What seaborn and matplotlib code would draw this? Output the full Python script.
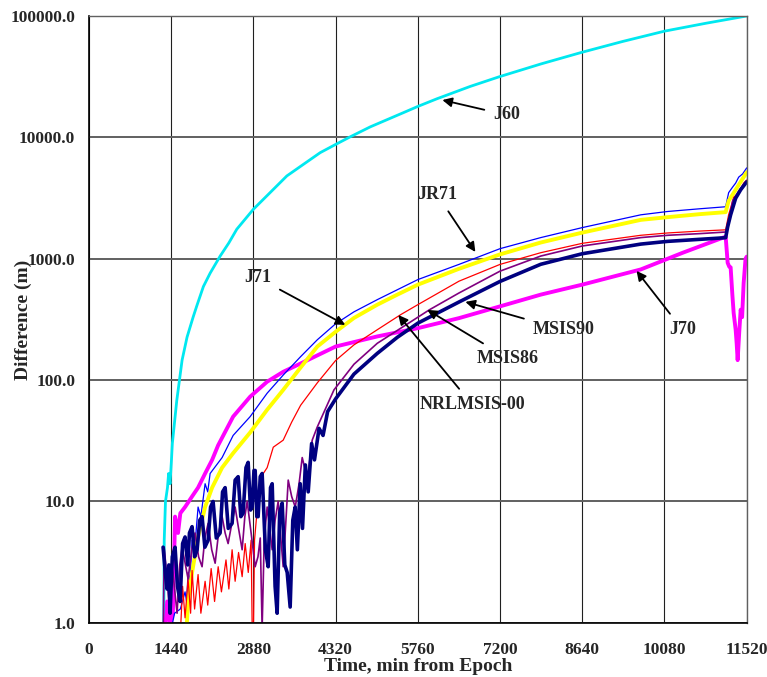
import numpy as np
import pandas as pd
import seaborn as sns
import matplotlib
matplotlib.use("Agg")
import matplotlib.pyplot as plt
from matplotlib.ticker import FixedLocator, LogLocator, FuncFormatter, NullFormatter

# ----------------------- data ----------------------- #
# time in minutes from epoch, difference in metres

j60_t = [1280, 1310, 1318, 1340, 1375, 1395, 1420, 1445, 1460, 1538, 1631, 1718, 1824, 1888, 2004,
         2122, 2297, 2450, 2589, 2881, 3174, 3466, 3758, 4050, 4326, 4576, 4927, 5511, 5763, 6096,
         6680, 7189, 7920, 8627, 9350, 10082, 10800, 11520]
j60_v = [0.5, 1.0, 4.8, 10, 13, 17, 14, 22, 30, 68, 146, 226, 330, 408, 590,
         760, 1050, 1350, 1750, 2560, 3510, 4810, 6000, 7480, 8770, 10100, 12200, 16000, 18000, 20800,
         26300, 31600, 40300, 50100, 61700, 75000, 87000, 100000]

j70_t = [1330, 1370, 1420, 1470, 1508, 1560, 1600, 1683, 1806, 1911, 2034, 2157, 2262, 2525, 2823,
         3121, 3402, 3707, 4320, 5050, 5763, 6481, 7200, 7913, 8643, 9665, 10400, 11152, 11187, 11215,
         11239, 11270, 11292, 11327, 11345, 11362, 11390, 11415, 11440, 11467, 11500, 11520]
j70_v = [0.8, 1.5, 1.0, 1.2, 7.5, 5.5, 8, 9, 11, 13, 17, 22, 29, 50, 73,
         97, 117, 137, 189, 229, 268, 324, 405, 506, 612, 816, 1120, 1520, 925, 860,
         850, 500, 357, 260, 200, 146, 250, 380, 330, 630, 1000, 1040]

jr71_t = [1420, 1500, 1600, 1683, 1710, 1736, 1770, 1806, 1850, 1911, 1960, 2034, 2080, 2122, 2332,
          2525, 2823, 3121, 3402, 3707, 4000, 4320, 4641, 5050, 5763, 6481, 7200, 7913, 8643, 9665,
          10135, 10700, 11152, 11204, 11275, 11327, 11380, 11450, 11520]
jr71_v = [0.8, 1.2, 1.3, 1.8, 1.5, 2.6, 2.2, 4.8, 4.0, 9, 7.5, 14, 12, 17, 23,
          35, 50, 78, 110, 156, 215, 291, 365, 460, 674, 898, 1210, 1493, 1806, 2300,
          2450, 2580, 2680, 3500, 3900, 4200, 4700, 5000, 5600]

j71_t = [1700, 1718, 1736, 1806, 1911, 2034, 2157, 2332, 2525, 2823, 3121, 3402, 3707, 4000, 4320,
         4641, 5050, 5401, 5763, 6481, 7200, 7913, 8643, 9665, 10135, 10700, 11152, 11204, 11327,
         11415, 11520]
j71_v = [0.8, 1.05, 1.5, 2.6, 5.1, 9, 13, 19, 25, 37, 57, 83, 127, 189, 250,
         325, 418, 506, 612, 826, 1086, 1360, 1642, 2090, 2200, 2330, 2420, 3000, 3700,
         4300, 5150]

msis86_t = [1600, 1640, 1683, 1736, 1780, 1806, 1850, 1911, 1960, 2034, 2080, 2140, 2200, 2263, 2320,
            2400, 2450, 2507, 2560, 2620, 2683, 2736, 2790, 2840, 2860, 2880, 2900, 2950, 3016, 3121,
            3228, 3402, 3550, 3707, 4000, 4320, 4641, 5050, 5459, 5763, 6481, 7200, 7913, 8643,
            9665, 10135, 10700, 11152, 11204, 11292, 11380, 11467, 11520]
msis86_v = [0.8, 2.0, 1.1, 2.3, 1.2, 2.7, 1.3, 2.5, 1.2, 2.2, 1.4, 2.8, 1.5, 2.9, 1.8,
            3.3, 1.9, 4.0, 2.2, 3.8, 2.4, 4.5, 2.6, 4.8, 0.8, 0.8, 4.8, 9, 16, 19,
            28, 32, 45, 62, 95, 145, 195, 260, 346, 419, 653, 898, 1121, 1340,
            1560, 1630, 1690, 1730, 2300, 3200, 3500, 4200, 4450]

msis90_t = [1300, 1318, 1360, 1400, 1440, 1470, 1505, 1543, 1590, 1631, 1690, 1736, 1800, 1858, 1920,
            1981, 2030, 2087, 2150, 2210, 2270, 2332, 2385, 2437, 2500, 2560, 2620, 2683, 2730, 2771,
            2840, 2911, 2960, 3000, 3033, 3070, 3121, 3209, 3260, 3314, 3360, 3402, 3450, 3490, 3550,
            3613, 3680, 3735, 3790, 3840, 3910, 3998, 4291, 4641, 5050, 5965, 6481, 7200, 7913, 8643,
            9665, 10135, 10700, 11152, 11204, 11275, 11380, 11450, 11520]
msis90_v = [0.8, 4.2, 2.5, 1.5, 3.0, 2.6, 1.8, 1.2, 3.0, 4.2, 3.0, 2.3, 4.0, 5.5, 3.5,
            2.9, 5.0, 6.6, 4.0, 3.1, 5.5, 7.5, 5.5, 4.5, 6.5, 9, 6.0, 4, 7.5, 10,
            5.5, 2.9, 3.5, 5, 0.9, 5, 9, 4, 7, 10, 5, 2.9, 7, 15, 11,
            9, 14, 23, 18, 17, 32, 41, 83, 135, 201, 380, 522, 790, 1052, 1274,
            1493, 1560, 1610, 1660, 2000, 3000, 3600, 4000, 4300]

nrl_t = [1298, 1340, 1368, 1400, 1420, 1460, 1508, 1550, 1596, 1640, 1683, 1730, 1760, 1806, 1850,
         1894, 1940, 1981, 2030, 2087, 2130, 2174, 2230, 2297, 2340, 2385, 2440, 2507, 2560, 2613,
         2660, 2700, 2750, 2788, 2830, 2858, 2890, 2911, 2940, 2963, 3000, 3033, 3090, 3139, 3180,
         3209, 3260, 3296, 3340, 3384, 3430, 3472, 3524, 3570, 3612, 3650, 3700, 3740, 3790, 3840,
         3900, 3950, 4030, 4100, 4180, 4320, 4641, 5050, 5400, 5763, 6481, 7200, 7913, 8643, 9665,
         10135, 11152, 11187, 11239, 11327, 11415, 11520]
nrl_v = [4.2, 2.5, 1.9, 3.0, 1.2, 3.5, 4.2, 2.0, 1.5, 4.5, 5.1, 3.0, 5.5, 6.2, 3.5,
         4.0, 7.0, 7.5, 4.2, 4.8, 9.0, 10, 5.0, 5.5, 12, 13, 6.0, 6.6, 15, 16,
         7.5, 8, 19, 21, 8.5, 9, 18, 18, 7.5, 7.5, 16, 17, 4, 2.9, 13,
         14, 2, 1.2, 8, 9.7, 3, 2.6, 1.35, 7, 9, 4, 14, 6, 20, 12,
         30, 22, 40, 35, 55, 70, 112, 166, 225, 295, 440, 650, 900, 1100, 1320,
         1390, 1490, 1830, 2300, 3150, 3700, 4300]

# name, x, y, colour, line width  (drawing order)
series = [
    ("J60", j60_t, j60_v, "#00E8F0", 2.0),
    ("J70", j70_t, j70_v, "#FF00FF", 2.8),
    ("JR71", jr71_t, jr71_v, "#0000FF", 0.9),
    ("J71", j71_t, j71_v, "#FFFF00", 2.8),
    ("MSIS86", msis86_t, msis86_v, "#FF0000", 0.9),
    ("MSIS90", msis90_t, msis90_v, "#800080", 1.2),
    ("NRLMSIS-00", nrl_t, nrl_v, "#000080", 2.6),
]

# label text position -> arrow tip (data coords)
labels = [
    ("J60", (7312, 15300), (6190, 20300)),
    ("JR71", (6102, 3355), (6768, 1137)),
    ("J71", (2963, 695), (4489, 285)),
    ("MSIS90", (8311, 259), (6593, 441)),
    ("MSIS86", (7329, 152), (5926, 379)),
    ("NRLMSIS-00", (6716, 62.5), (5418, 344)),
    ("J70", (10398, 259), (9591, 794)),
]

x_ticks = [0, 1440, 2880, 4320, 5760, 7200, 8640, 10080, 11520]
y_ticks = [1, 10, 100, 1000, 10000, 100000]

# ----------------------------- plotting ----------------------------- #
sns.set_style("white")
plt.rcParams["font.family"] = ["Liberation Serif", "DejaVu Serif"]
plt.rcParams["font.weight"] = "bold"

fig, ax = plt.subplots(figsize=(7.67, 6.77), dpi=100)
fig.subplots_adjust(left=0.116, right=0.9735, bottom=0.080, top=0.9764)

for name, t, v, col, lw in series:
    df = pd.DataFrame({"t": t, "v": v})
    sns.lineplot(data=df, x="t", y="v", color=col, linewidth=lw, ax=ax,
                 estimator=None, sort=False)

ax.set_yscale("log")
ax.set_xlim(0, 11520)
ax.set_ylim(1, 100000)

# ticks
ax.xaxis.set_major_locator(FixedLocator(x_ticks))
ax.xaxis.set_minor_locator(FixedLocator(np.arange(0, 11521, 360)))
ax.yaxis.set_major_locator(FixedLocator(y_ticks))
ax.yaxis.set_minor_locator(LogLocator(base=10, subs=np.arange(2, 10)))
ax.yaxis.set_major_formatter(FuncFormatter(lambda v, p: "{:.1f}".format(v)))
ax.yaxis.set_minor_formatter(NullFormatter())
ax.tick_params(axis="x", which="both", direction="in", length=4, width=1, labelsize=12.5, pad=14)
ax.tick_params(axis="y", which="both", direction="out", length=3, width=1, labelsize=12.5, pad=7)
for lab in ax.get_xticklabels() + ax.get_yticklabels():
    lab.set_fontweight("bold")

# grid
ax.xaxis.grid(True, which="major", color="#202020", linewidth=0.8)
ax.yaxis.grid(True, which="major", color="#606060", linewidth=1.4)
ax.set_axisbelow(True)

for s in ["left", "bottom"]:
    ax.spines[s].set_color("black")
    ax.spines[s].set_linewidth(1.2)
for s in ["top", "right"]:
    ax.spines[s].set_color("#606060")
    ax.spines[s].set_linewidth(1.0)

ax.set_xlabel("Time, min from Epoch", fontsize=14, fontweight="bold", labelpad=0)
ax.set_ylabel("Difference (m)", fontsize=14, fontweight="bold")
ax.yaxis.set_label_coords(-0.087, 0.5)

# arrows and labels
for text, txy, tip in labels:
    ax.annotate(text, xy=tip, xytext=txy, fontsize=13, fontweight="bold",
                ha="center", va="center",
                arrowprops=dict(arrowstyle="-|>", color="black", lw=1.3,
                                mutation_scale=14, shrinkA=4, shrinkB=0))

plt.savefig("out.png", dpi=100)
